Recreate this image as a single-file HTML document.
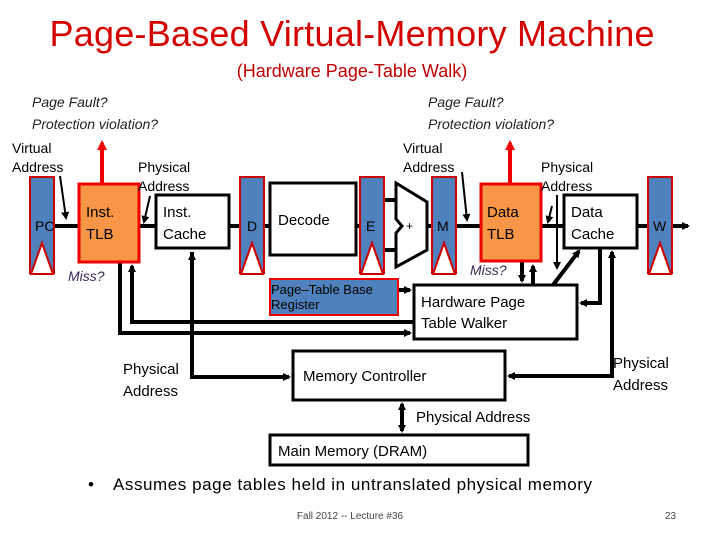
<!DOCTYPE html>
<html><head><meta charset="utf-8"><style>body{margin:0;background:#fff}svg{display:block}text{font-family:"Liberation Sans",sans-serif}</style></head><body>
<svg width="720" height="540" viewBox="0 0 720 540" xmlns="http://www.w3.org/2000/svg">
<defs>
<marker id="a" markerWidth="8" markerHeight="8" refX="6" refY="4" orient="auto" markerUnits="userSpaceOnUse"><path d="M0,0 L8,4 L0,8 z" fill="#000"/></marker>
<marker id="r" markerWidth="10" markerHeight="10" refX="7" refY="5" orient="auto" markerUnits="userSpaceOnUse"><path d="M0,0 L10,5 L0,10 z" fill="#e00"/></marker>
<g id="reg"><rect x="0" y="0" width="24" height="96" fill="#4f81bd" stroke="#c00" stroke-width="2"/><path d="M1,97 L12,66 L23,97 Z" fill="#fff" stroke="#c00" stroke-width="2"/></g>
</defs>
<text x="352" y="46" font-size="36" fill="#d40000" text-anchor="middle" textLength="605">Page-Based Virtual-Memory Machine</text>
<text x="352" y="77" font-size="18" fill="#c00000" text-anchor="middle">(Hardware Page-Table Walk)</text>
<g font-size="14" font-style="italic" fill="#222">
<text x="32" y="107">Page Fault?</text><text x="32" y="129">Protection violation?</text>
<text x="428" y="107">Page Fault?</text><text x="428" y="129">Protection violation?</text>
</g>
<g stroke="#000" stroke-width="4" fill="none">
<line x1="54" y1="226" x2="78" y2="226"/><line x1="139" y1="226" x2="156" y2="226"/>
<line x1="229" y1="226" x2="240" y2="226"/><line x1="264" y1="226" x2="270" y2="226"/>
<line x1="356" y1="226" x2="360" y2="226"/>
<line x1="384" y1="200" x2="396" y2="200"/><line x1="384" y1="250" x2="396" y2="250"/>
<line x1="427" y1="226" x2="432" y2="226"/><line x1="456" y1="226" x2="480" y2="226"/>
<line x1="541" y1="226" x2="564" y2="226"/><line x1="637" y1="226" x2="648" y2="226"/>
<line x1="672" y1="226" x2="688" y2="226" marker-end="url(#a)"/>
<polyline points="120,262 120,333 410,333" marker-end="url(#a)"/>
<polyline points="414,322 132,322 132,266" marker-end="url(#a)"/>
<polyline points="192,252 192,377 289,377" marker-end="url(#a)"/>
<line x1="192" y1="300" x2="192" y2="254" marker-end="url(#a)"/>
<polyline points="612,300 612,376 509,376" marker-end="url(#a)"/>
<line x1="612" y1="300" x2="612" y2="252" marker-end="url(#a)"/>
<polyline points="600,248 600,303 581,303" marker-end="url(#a)"/>
<line x1="398" y1="290" x2="410" y2="290" marker-end="url(#a)"/>
<line x1="522" y1="262" x2="522" y2="281" marker-end="url(#a)"/>
<line x1="533" y1="285" x2="533" y2="266" marker-end="url(#a)"/>
<line x1="553" y1="285" x2="579" y2="251" marker-end="url(#a)"/>
<line x1="402" y1="405" x2="402" y2="431" marker-end="url(#a)"/>
<line x1="402" y1="420" x2="402" y2="404" marker-end="url(#a)"/>
</g>
<g stroke="#000" stroke-width="2">
<line x1="60" y1="176" x2="66" y2="218" marker-end="url(#a)"/>
<line x1="150" y1="196" x2="144" y2="222" marker-end="url(#a)"/>
<line x1="462" y1="172" x2="467" y2="220" marker-end="url(#a)"/>
<line x1="552" y1="206" x2="548" y2="222" marker-end="url(#a)"/>
<line x1="557" y1="195" x2="557" y2="268" marker-end="url(#a)"/>
</g>
<g stroke="#e00" stroke-width="4"><line x1="102" y1="183" x2="102" y2="143" marker-end="url(#r)"/><line x1="510" y1="183" x2="510" y2="143" marker-end="url(#r)"/></g>
<use href="#reg" x="30" y="177"/><use href="#reg" x="240" y="177"/><use href="#reg" x="360" y="177"/><use href="#reg" x="432" y="177"/><use href="#reg" x="648" y="177"/>
<g stroke="#000" stroke-width="3" fill="#fff">
<rect x="156" y="195" width="73" height="53"/><rect x="270" y="183" width="86" height="72"/>
<rect x="564" y="195" width="73" height="53"/><rect x="414" y="285" width="163" height="54"/>
<rect x="293" y="351" width="212" height="49"/><rect x="270" y="435" width="258" height="30"/>
<path d="M396,183 L427,202 L427,250 L396,267 L396,233 L402,226 L396,219 Z"/>
</g>
<rect x="79" y="184" width="60" height="78" fill="#f79646" stroke="#e00" stroke-width="3"/>
<rect x="481" y="184" width="60" height="77" fill="#f79646" stroke="#e00" stroke-width="3"/>
<rect x="270" y="279" width="128" height="36" fill="#4f81bd" stroke="#e00" stroke-width="2"/>
<g font-size="14" fill="#000">
<text x="12" y="153">Virtual</text><text x="12" y="172">Address</text>
<text x="138" y="172">Physical</text><text x="138" y="191">Address</text>
<text x="403" y="153">Virtual</text><text x="403" y="172">Address</text>
<text x="541" y="172">Physical</text><text x="541" y="191">Address</text>
<text x="35" y="231">PC</text><text x="247" y="231">D</text><text x="366" y="231">E</text><text x="437" y="231">M</text><text x="653" y="231">W</text>
<text x="406" y="230" font-size="12">+</text>
<text x="86" y="217" font-size="15">Inst.</text><text x="86" y="239" font-size="15">TLB</text>
<text x="163" y="217" font-size="15">Inst.</text><text x="163" y="239" font-size="15">Cache</text>
<text x="278" y="225" font-size="15">Decode</text>
<text x="487" y="217" font-size="15">Data</text><text x="487" y="239" font-size="15">TLB</text>
<text x="571" y="217" font-size="15">Data</text><text x="571" y="239" font-size="15">Cache</text>
<text x="271" y="294" font-size="13">Page–Table Base</text><text x="271" y="309" font-size="13">Register</text>
<text x="421" y="307" font-size="15">Hardware Page</text><text x="421" y="328" font-size="15">Table Walker</text>
<text x="123" y="374" font-size="15">Physical</text><text x="123" y="396" font-size="15">Address</text>
<text x="303" y="381" font-size="15">Memory Controller</text>
<text x="613" y="368" font-size="15">Physical</text><text x="613" y="390" font-size="15">Address</text>
<text x="416" y="422" font-size="15">Physical Address</text>
<text x="278" y="456" font-size="15">Main Memory (DRAM)</text>
<text x="88" y="490" font-size="17">•</text><text x="113" y="490" font-size="17" textLength="479">Assumes page tables held in untranslated physical memory</text>
<text x="350" y="519" font-size="10" fill="#444" text-anchor="middle">Fall 2012 -- Lecture #36</text>
<text x="665" y="519" font-size="10" fill="#444">23</text>
</g>
<g font-size="14" font-style="italic" fill="#3a2a5a"><text x="68" y="281">Miss?</text><text x="470" y="275">Miss?</text></g>
</svg>
</body></html>
